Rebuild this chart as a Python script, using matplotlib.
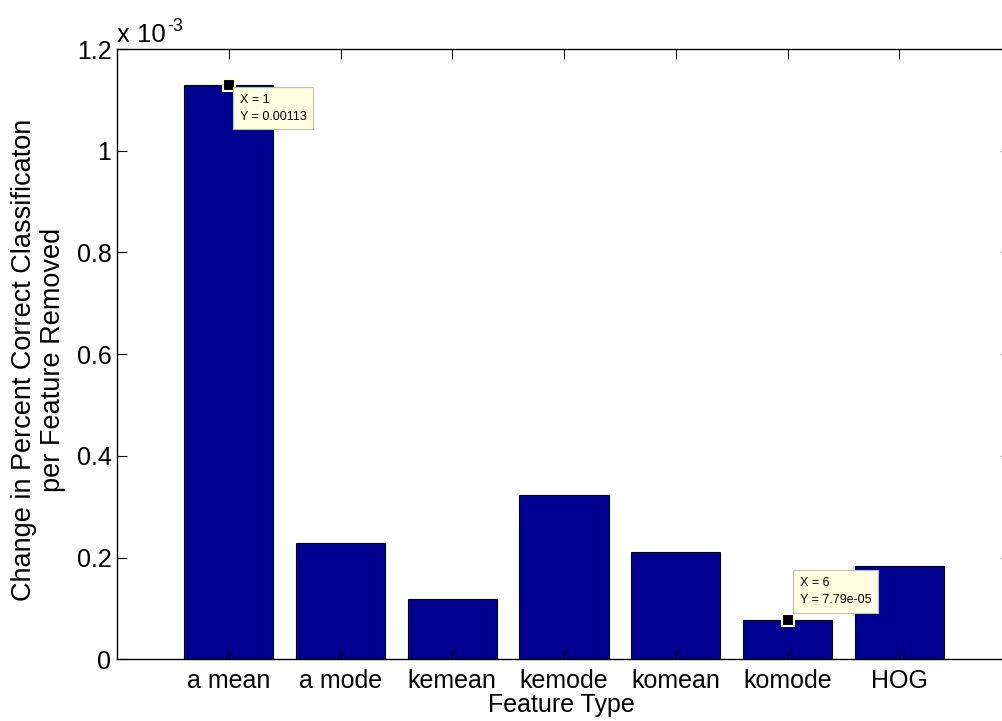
import numpy as np
import matplotlib
matplotlib.use('Agg')
import matplotlib.pyplot as plt

plt.rcParams['font.family'] = ['Liberation Sans', 'DejaVu Sans']

# feature types and the drop in correct classification per removed feature
features = ['a mean', 'a mode', 'kemean', 'kemode', 'komean', 'komode', 'HOG']
change = [0.00113, 0.000229, 0.000118, 0.000324, 0.000210, 7.79e-05, 0.000183]
yticks = [0, 0.0002, 0.0004, 0.0006, 0.0008, 0.0010, 0.0012]
ytick_labels = ['0', '0.2', '0.4', '0.6', '0.8', '1', '1.2']

# data cursors: (bar index, label text, pixel offset of the box, box anchor)
tips = [(1, 'X = 1\nY = 0.00113', (11, -9), 'top'),
        (6, 'X = 6\nY = 7.79e-05', (12, 14), 'bottom')]

W, H = 1002, 721
fig = plt.figure(figsize=(W / 100, H / 100), dpi=100)
ax = fig.add_axes([117 / W, 61.7 / H, 894 / W, 610.3 / H])

x = np.arange(1, len(features) + 1)
ax.bar(x, change, width=0.8, color='#000090', edgecolor='black', linewidth=0.8)

ax.set_xlim(0, 8)
ax.set_ylim(0, 0.0012)
ax.set_xticks(x)
ax.set_xticklabels(features)
ax.set_yticks(yticks)
ax.set_yticklabels(ytick_labels)
ax.tick_params(direction='in', length=7, width=0.8, labelsize=18,
               top=True, right=True, colors='black')
ax.tick_params(axis='x', pad=7)
ax.tick_params(axis='y', pad=4)
for s in ax.spines.values():
    s.set_linewidth(1.0)

fig.text(561 / W, 1 - 712 / H, 'Feature Type', fontsize=18,
         ha='center', va='baseline')
fig.text(39 / W, 1 - 360 / H,
         'Change in Percent Correct Classificaton\nper Feature Removed',
         fontsize=19.5, rotation=90, ha='center', va='center',
         multialignment='center', linespacing=1.15)

# exponent label above the y axis
fig.text(117 / W, 1 - 42 / H, 'x 10', fontsize=18.5, ha='left', va='baseline')
fig.text(167 / W, 1 - 31 / H, '-3', fontsize=13, ha='left', va='baseline')

for xi, txt, off, anchor in tips:
    yi = change[xi - 1]
    ax.plot(xi, yi, 's', ms=8, mfc='black', mec='#FFFFE1', mew=1.5,
            zorder=5, clip_on=False)
    ax.annotate(txt, xy=(xi, yi), xytext=off, textcoords='offset pixels',
                ha='left', va=anchor, fontsize=9, linespacing=1.55,
                bbox=dict(boxstyle='square,pad=0.55', fc='#FFFFE1',
                          ec='#BDBDB0', lw=0.8), zorder=6)

fig.savefig('out.png', dpi=100)
